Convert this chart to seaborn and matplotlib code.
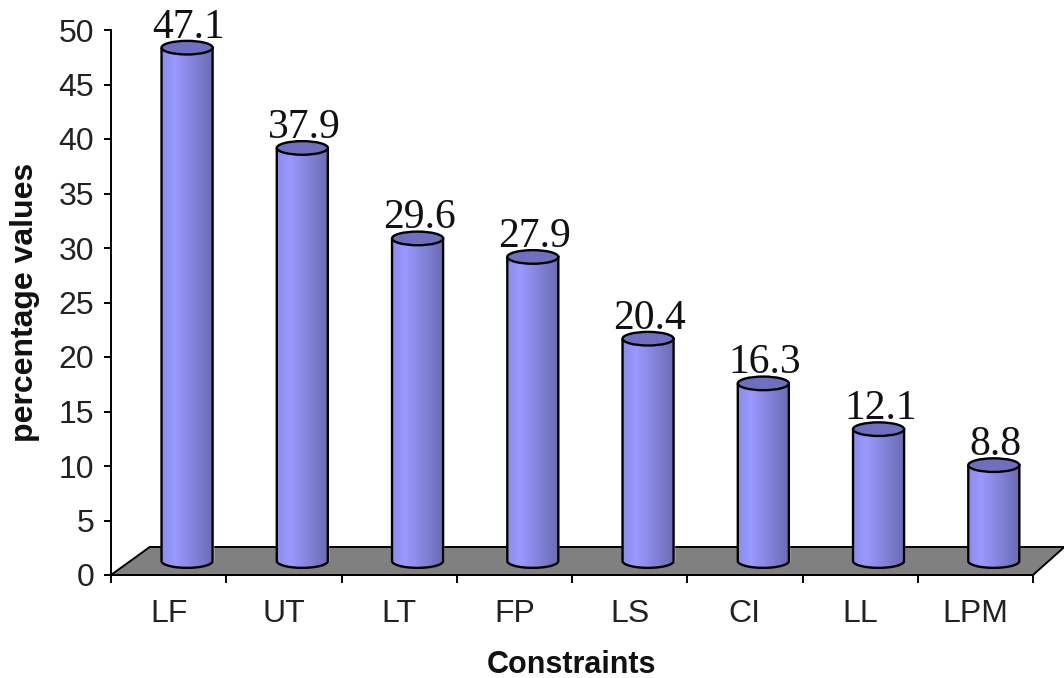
import numpy as np
import pandas as pd
import seaborn as sns
import matplotlib
matplotlib.use("Agg")
import matplotlib.pyplot as plt
from matplotlib.colors import LinearSegmentedColormap
from matplotlib.patches import Ellipse, PathPatch, Polygon
from matplotlib.path import Path

constraints = ["LF", "UT", "LT", "FP", "LS", "CI", "LL", "LPM"]
percentages = [47.1, 37.9, 29.6, 27.9, 20.4, 16.3, 12.1, 8.8]
y_ticks = list(range(0, 55, 5))

BASE = 1.28          # cylinders stand on the raised floor
BAR_WIDTH = 0.443
CAP_HEIGHT = 1.25
SHIFT = 0.16         # category labels sit left of the cylinders

sns.set_theme(style="white")
plt.rcParams["font.family"] = ["Liberation Sans", "DejaVu Sans"]

fig = plt.figure(figsize=(10.64, 6.78), dpi=100, facecolor="white")
ax = fig.add_axes([111 / 1064, 1 - 575 / 678, 922 / 1064, 545 / 678])

df = pd.DataFrame({"constraint": constraints, "percentage": percentages})
sns.barplot(data=df, x="constraint", y="percentage", color="#9999ff",
            width=BAR_WIDTH, saturation=1, errorbar=None, ax=ax, zorder=3)

xlim = (-0.5 - SHIFT, 7.5 - SHIFT)
ylim = (0, 50)

# Grey floor of the pseudo-3D plot area
ax.add_patch(Polygon([(0, 0), (0.042, 0.0514), (1.034, 0.0514), (1, 0)],
                     closed=True, transform=ax.transAxes, facecolor="#808080",
                     edgecolor="black", linewidth=1.4, clip_on=False, zorder=1))

shade = LinearSegmentedColormap.from_list(
    "cylinder", [(0, "#8c8cee"), (0.25, "#9999ff"), (0.6, "#8484dc"), (1, "#6a6ab2")])
gradient = np.linspace(0, 1, 128).reshape(1, -1)

theta = np.linspace(np.pi, 2 * np.pi, 40)
for patch, value in zip(ax.patches, percentages):
    patch.set_y(BASE)
    left, right = patch.get_x(), patch.get_x() + patch.get_width()
    centre = (left + right) / 2
    top = BASE + value

    # Body outline: straight sides and a rounded lower edge
    lower_x = centre + BAR_WIDTH / 2 * np.cos(theta)
    lower_y = BASE + CAP_HEIGHT / 2 * np.sin(theta)
    verts = [(left, top)] + list(zip(lower_x, lower_y)) + [(right, top), (left, top)]
    outline = PathPatch(Path(verts), facecolor="none", edgecolor="black",
                        linewidth=1.7, zorder=5)
    ax.add_patch(outline)

    image = ax.imshow(gradient, cmap=shade, aspect="auto", zorder=4,
                      extent=(left, right, BASE - CAP_HEIGHT, top))
    image.set_clip_path(outline)

    ax.add_patch(Ellipse((centre, top), BAR_WIDTH, CAP_HEIGHT, facecolor="#6f6fc0",
                         edgecolor="black", linewidth=1.7, zorder=6, clip_on=False))
    ax.text(centre + 0.015, top + CAP_HEIGHT / 2 + 0.3, f"{value:.1f}", ha="center", va="baseline",
            family="Liberation Serif", fontsize=30, color="#111111", zorder=7)

ax.set_xlim(*xlim)
ax.set_ylim(*ylim)

for side in ("top", "right"):
    ax.spines[side].set_visible(False)
for side in ("left", "bottom"):
    ax.spines[side].set_color("black")
    ax.spines[side].set_linewidth(1.4)
    ax.spines[side].set_zorder(2)

# Ticks mark category boundaries; labels are centred between them
ax.set_xticks(np.arange(9) - 0.5 - SHIFT)
ax.set_xticklabels([])
ax.set_xticks(np.arange(8) - SHIFT, labels=constraints, minor=True)
ax.tick_params(axis="x", which="major", length=6, width=1.4, color="black", bottom=True)
ax.tick_params(axis="x", which="minor", length=0, pad=17, labelsize=23, labelcolor="#222222", bottom=False)
ax.set_yticks(y_ticks)
ax.tick_params(axis="y", length=5, width=1.4, color="black", left=True, pad=7,
               labelsize=23, labelcolor="#222222")

ax.set_xlabel("")
ax.set_ylabel("")
fig.text(571 / 1064, 1 - 665 / 678, "Constraints", ha="center", va="center",
         fontsize=22, fontweight="bold", color="#111111")
fig.text(25 / 1064, 1 - 302 / 678, "percentage values", rotation=90, ha="center", va="center",
         fontsize=23, fontweight="bold", color="#111111")

fig.savefig("out.png", dpi=100, facecolor="white")
